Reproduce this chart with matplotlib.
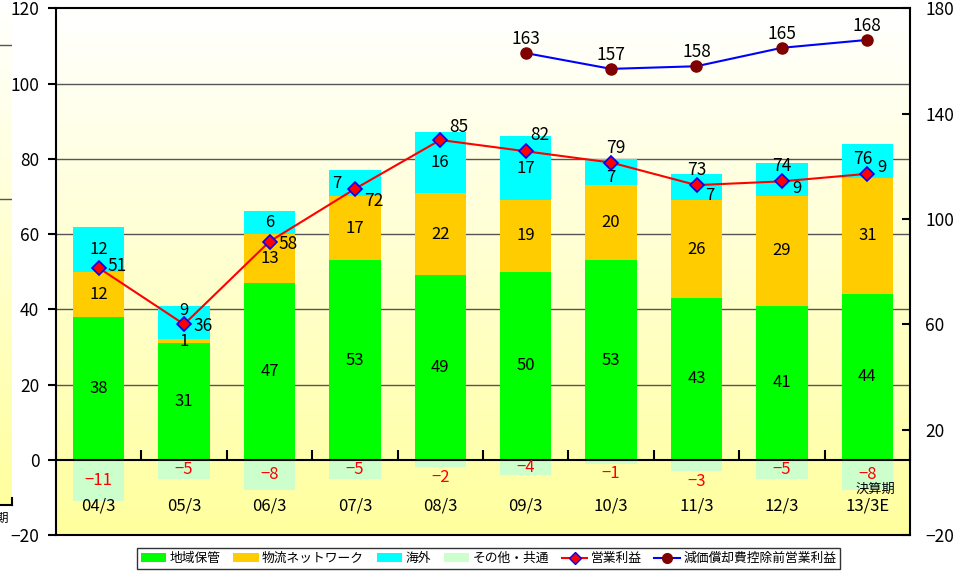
import numpy as np
import matplotlib.pyplot as plt
from matplotlib.patches import Patch
from matplotlib.lines import Line2D

plt.rcParams['font.family'] = ['Noto Sans CJK JP', 'DejaVu Sans']

# データ（億円）
periods = ['04/3', '05/3', '06/3', '07/3', '08/3', '09/3', '10/3', '11/3', '12/3', '13/3E']
chiiki = [38, 31, 47, 53, 49, 50, 53, 43, 41, 44]        # 地域保管
butsuryu = [12, 1, 13, 17, 22, 19, 20, 26, 29, 31]       # 物流ネットワーク
kaigai = [12, 9, 6, 7, 16, 17, 7, 7, 9, 9]               # 海外
sonota = [-11, -5, -8, -5, -2, -4, -1, -3, -5, -8]       # その他・共通
eigyo = [51, 36, 58, 72, 85, 82, 79, 73, 74, 76]         # 営業利益
ebitda = [np.nan, np.nan, np.nan, np.nan, np.nan, 163, 157, 158, 165, 168]

# ラベルのずらし（ピクセル、上が正）
eigyo_offsets = [(18, 2), (19, -2), (19, -2), (19, -12), (19, 13),
                 (14, 16), (5, 15), (0, 15), (0, 15), (-4, 15)]
kaigai_offsets = [(0, 0), (0, 12), (0, 0), (-18, 0), (0, 0),
                  (0, 0), (0, -6), (13, -8), (15, -9), (15, -7)]

x = np.arange(len(periods))
w = 0.6

fig = plt.figure(figsize=(9.75, 5.71), dpi=100)
ax = fig.add_axes([56 / 975, 1 - 535 / 571, 854 / 975, (535 - 8.3) / 571])

# 背景グラデーション
grad = np.linspace(0, 1, 256).reshape(-1, 1)
cols = np.zeros((256, 1, 3))
cols[..., 0] = 1.0
cols[..., 1] = 1.0
cols[..., 2] = 1.0 - 0.38 * grad
ax.imshow(cols, extent=[0, 1, 0, 1], transform=ax.transAxes, aspect='auto', zorder=0)

# 左端の切れた枠
ax_s = fig.add_axes([0, 1 - 505 / 571, 12 / 975, 505 / 571])
ax_s.imshow(cols, extent=[0, 1, 0, 1], aspect='auto')
ax_s.set_xlim(0, 1)
ax_s.set_ylim(0, 1)
for yy in [1 - 45 / 505, 1 - 199 / 505]:
    ax_s.axhline(yy, color='#555555', lw=1)
ax_s.axis('off')
fig.add_artist(Line2D([0, 12 / 975], [1 - 505 / 571] * 2, color='black', lw=1.5))
fig.add_artist(Line2D([12 / 975] * 2, [1 - 505 / 571, 1 - 498 / 571], color='black', lw=1.5))
fig.text(-4 / 975, 1 - 518 / 571, '期', fontsize=9, va='center', ha='left')

# 棒グラフ
bot2 = np.array(chiiki)
bot3 = bot2 + np.array(butsuryu)
ax.bar(x, chiiki, w, color='#00FF00', zorder=2)
ax.bar(x, butsuryu, w, bottom=bot2, color='#FFCC00', zorder=2)
ax.bar(x, kaigai, w, bottom=bot3, color='#00FFFF', zorder=2)
ax.bar(x, sonota, w, color='#CCFFCC', zorder=2)

# 棒のラベル
fs = 12
for i in range(len(periods)):
    ax.text(x[i], chiiki[i] / 2, str(chiiki[i]), ha='center', va='center', fontsize=fs, zorder=5)
    ax.text(x[i], bot2[i] + butsuryu[i] / 2, str(butsuryu[i]), ha='center', va='center',
            fontsize=fs, zorder=5)
    ax.annotate(str(kaigai[i]), (x[i], bot3[i] + kaigai[i] / 2), xytext=kaigai_offsets[i],
                textcoords='offset pixels', ha='center', va='center', fontsize=fs, zorder=5)
    v = sonota[i]
    ly = v / 2 if abs(v) >= 4 else v - 2.7
    ax.text(x[i], ly, '−%d' % abs(v), ha='center', va='center', fontsize=fs, color='#FF0000', zorder=5)
    ax.text(x[i], -12.3, periods[i], ha='center', va='center', fontsize=fs, zorder=5)

ax.text(x[-1] + 0.1, -8.0, '決算期', ha='center', va='center', fontsize=9.5, zorder=5)

# 営業利益
ax.plot(x, eigyo, color='#FF0000', lw=1.5, marker='D', ms=7, mfc='#FF0000', mec='#0000FF',
        mew=1.2, zorder=6)
for i in range(len(periods)):
    ax.annotate(str(eigyo[i]), (x[i], eigyo[i]), xytext=eigyo_offsets[i],
                textcoords='offset pixels', ha='center', va='center', fontsize=12.5, zorder=7)

ax.set_xlim(-0.5, 9.5)
ax.set_ylim(-20, 120)
ax.set_yticks(np.arange(-20, 121, 20))
ax.set_axisbelow(True)
for gy in [20, 40, 60, 80, 100]:
    ax.axhline(gy, color='#555555', lw=1, zorder=1)

ax.spines['bottom'].set_position(('data', 0))
ax.spines['bottom'].set_linewidth(1.5)
ax.spines['left'].set_linewidth(1.5)
ax.spines['top'].set_linewidth(1.5)
ax.spines['right'].set_visible(False)
ax.axhline(-20, color='black', lw=1.5, clip_on=False, zorder=3)
ax.set_xticks(np.arange(-0.5, 9.6, 1.0))
ax.set_xticklabels([])
ax.tick_params(axis='x', direction='in', length=7, width=1.5)
ax.tick_params(axis='y', direction='out', length=6, width=1.5, labelsize=12.5, pad=6)

# 減価償却費控除前営業利益（右軸）
ax2 = ax.twinx()
ax2.plot(x, ebitda, color='#0000FF', lw=1.5, marker='o', ms=8, mfc='#800000', mec='#800000', zorder=6)
for i in range(len(periods)):
    if not np.isnan(ebitda[i]):
        ax2.annotate('%d' % ebitda[i], (x[i], ebitda[i]), xytext=(0, 14),
                     textcoords='offset pixels', ha='center', va='center', fontsize=12.5)
ax2.set_ylim(-20, 180)
ax2.set_yticks([-20, 20, 60, 100, 140, 180])
ax2.tick_params(axis='y', direction='in', length=6, width=1.5, labelsize=12.5, pad=11)
for s in ['left', 'top', 'bottom']:
    ax2.spines[s].set_visible(False)
ax2.spines['right'].set_linewidth(1.5)

# 凡例
handles = [
    Patch(facecolor='#00FF00', label='地域保管'),
    Patch(facecolor='#FFCC00', label='物流ネットワーク'),
    Patch(facecolor='#00FFFF', label='海外'),
    Patch(facecolor='#CCFFCC', label='その他・共通'),
    Line2D([], [], color='#FF0000', lw=1.5, marker='D', ms=6, mfc='#FF0000', mec='#0000FF',
           label='営業利益'),
    Line2D([], [], color='#0000FF', lw=1.5, marker='o', ms=7, mfc='#800000', mec='#800000',
           label='減価償却費控除前営業利益'),
]
leg = fig.legend(handles=handles, loc='center', bbox_to_anchor=(488.5 / 975, 1 - 558.5 / 571),
                 ncol=6, fontsize=9.2, frameon=True, fancybox=False, edgecolor='black',
                 handlelength=2.0, handleheight=0.6, handletextpad=0.25, columnspacing=1.0,
                 borderpad=0.3, borderaxespad=0)
leg.get_frame().set_linewidth(1.0)

fig.savefig('out.png', dpi=100)
